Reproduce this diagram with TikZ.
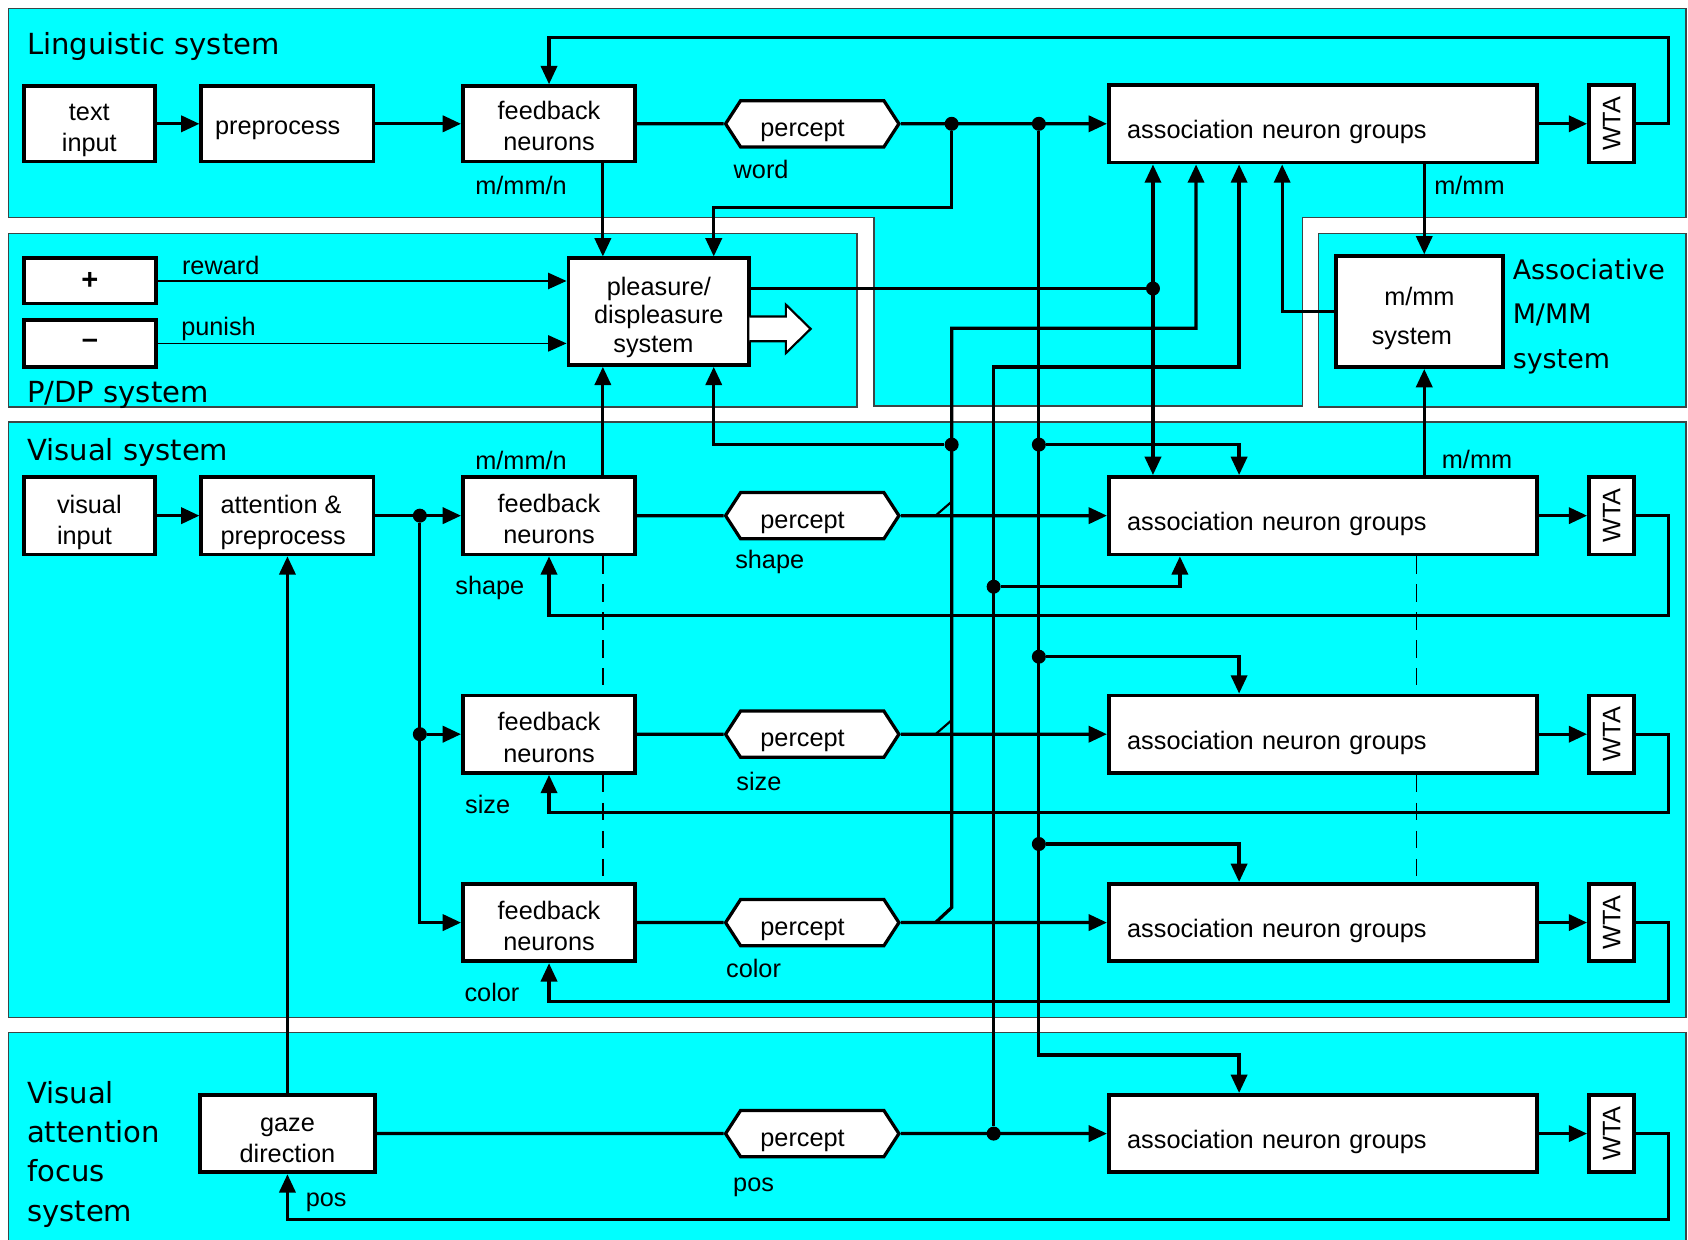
\documentclass[tikz,border=0pt]{standalone}
\usepackage{graphicx}
\usepackage{fontspec}
\setmainfont{Liberation Sans}
\newfontfamily\ttlfont{DejaVu Sans}
\usetikzlibrary{arrows.meta,shapes.symbols}
\definecolor{panelcyan}{RGB}{0,255,255}
\definecolor{panelline}{RGB}{60,70,70}
\newcommand{\topstrut}[1]{\rule{0pt}{#1}}

\begin{document}
\begin{tikzpicture}[x=1pt,y=-1pt,
  font=\fontsize{23.5}{29}\selectfont,
  panel/.style={fill=panelcyan, draw=panelline, line width=1.3pt},
  blk/.style={draw, fill=white, line width=3.5pt, inner sep=0pt, align=center},
  wta/.style={blk, minimum width=42pt, minimum height=72pt},
  agbox/.style={draw, fill=white, line width=3.5pt, inner sep=0pt,
                minimum width=398pt, minimum height=72pt, text width=364pt, align=left,
                execute at begin node={\topstrut{33pt}}},
  fbbox/.style={blk, minimum width=160pt, minimum height=72pt},
  pct/.style={shape=signal, signal to=west and east, signal pointer angle=114,
              draw, fill=white, line width=3pt, minimum width=161pt, minimum height=43pt, inner sep=0pt,
              execute at begin node={\topstrut{28pt}}, execute at end node={\kern18pt}},
  wire/.style={line width=3pt},
  arr/.style={wire, -{Triangle[length=17pt,width=15pt]}},
  dbl/.style={wire, {Triangle[length=17pt,width=15pt]}-{Triangle[length=17pt,width=15pt]}},
  thinarr/.style={line width=1.5pt, -{Triangle[length=17pt,width=15pt]}},
  tick/.style={line width=2pt},
  dot/.style={circle, fill, inner sep=0pt, minimum size=13pt},
  lbl/.style={inner sep=0pt},
  ttl/.style={font=\ttlfont\fontsize{27}{36.5}\selectfont, anchor=west, inner sep=0pt, align=left},
  guide/.style={line width=1.2pt, dash pattern=on 16pt off 10pt}
]
\useasboundingbox (0,0) rectangle (1568,1151);
\fill[white] (0,0) rectangle (1568,1151);

% ---------- system panels ----------
\draw[panel] (8,8) -- (1566,8) -- (1566,202) -- (1210,202) -- (1210,377)
             -- (812,377) -- (812,202) -- (8,202) -- cycle;
\draw[panel] (8,217) rectangle (796,378);
\draw[panel] (1225,217) rectangle (1566,378);
\draw[panel] (8,392) rectangle (1566,945);
\draw[panel] (8,959) rectangle (1566,1170);

% bus positions
\coordinate (c560) at (560,0);
\coordinate (c663) at (663,0);
\coordinate (c1071) at (1071,0);
\coordinate (c1096) at (1096,0);
\coordinate (c1111) at (1111,0);
\coordinate (c1151) at (1151,0);
\coordinate (c1191) at (1191,0);
\coordinate (c1316) at (1316,0);
\coordinate (c1323) at (1323,0);

% ---------- panel titles ----------
\node[ttl] (tling) at (25,43) {Linguistic system};
\node[ttl] (tpdp) at (25,367) {P/DP system};
\node[ttl] (tvis) at (25,420) {Visual system};
\node[ttl] (tfoc) at (25,1072) {Visual\\attention\\focus\\system};
\node[ttl, font=\ttlfont\fontsize{25}{41}\selectfont] (tass) at (1405,294) {Associative\\M/MM\\system};

% ---------- linguistic system ----------
\node[blk, minimum width=122pt, minimum height=70pt] (tin) at (83,115) {\topstrut{27.5pt}text\\input};
\node[blk, minimum width=160pt, minimum height=70pt] (prep) at (267,115) {\topstrut{24pt}preprocess\kern18pt};
\node[fbbox, minimum height=70pt] (fbw) at (510,115) {\topstrut{21pt}feedback\\neurons};
\node[pct] (pw) at (754.5,115) {percept};
\node[agbox] (agw) at (1229,115) {association neuron groups};
\node[wta] (wtaw) at (1497,115) {\rotatebox{90}{WTA}};

% ---------- P/DP system ----------
\node[blk, minimum width=123pt, minimum height=42pt, font=\fontsize{27}{29}\selectfont] (plus) at (83.5,261) {\textbf{+}};
\node[blk, minimum width=123pt, minimum height=44pt, font=\fontsize{27}{29}\selectfont] (minus) at (83.5,319) {\textbf{--}};
\node[blk, minimum width=168pt, minimum height=99pt, font=\fontsize{23.5}{26.5}\selectfont] (pds) at (612,289.5) {\topstrut{27pt}pleasure/\\displeasure\\system\kern10pt};

% ---------- associative M/MM system ----------
\node[blk, minimum width=155pt, minimum height=103pt, font=\fontsize{23.5}{36}\selectfont] (mms) at (1318.5,289.5) {\topstrut{29pt}m/mm\\system\kern14pt};

% ---------- visual system ----------
\node[blk, minimum width=122pt, minimum height=72pt, align=left] (vin) at (83,479) {\topstrut{29pt}visual\\input};
\node[blk, minimum width=160pt, minimum height=72pt, align=left] (att) at (267,479) {\topstrut{29pt}attention \&\\preprocess\kern8pt};
\node[fbbox] (fbs) at (510,479) {\topstrut{23pt}feedback\\neurons};
\node[fbbox] (fbz) at (510,682) {\topstrut{23pt}feedback\\neurons};
\node[fbbox] (fbc) at (510,857) {\topstrut{23pt}feedback\\neurons};
\node[pct] (ps) at (754.5,479) {percept};
\node[pct] (pz) at (754.5,682) {percept};
\node[pct] (pc) at (754.5,857) {percept};
\node[agbox] (ags) at (1229,479) {association neuron groups};
\node[agbox] (agz) at (1229,682) {association neuron groups};
\node[agbox] (agc) at (1229,857) {association neuron groups};
\node[wta] (wtas) at (1497,479) {\rotatebox{90}{WTA}};
\node[wta] (wtaz) at (1497,682) {\rotatebox{90}{WTA}};
\node[wta] (wtac) at (1497,857) {\rotatebox{90}{WTA}};

% ---------- visual attention focus system ----------
\node[blk, minimum width=162pt, minimum height=72pt] (gaze) at (267,1053) {\topstrut{24.5pt}gaze\\direction};
\node[pct] (pp) at (754.5,1053) {percept};
\node[agbox] (agp) at (1229,1053) {association neuron groups};
\node[wta] (wtap) at (1497,1053) {\rotatebox{90}{WTA}};

% ---------- junction dots ----------
\node[dot] (d884w) at (884,115) {};
\node[dot] (d965w) at (965,115) {};
\node[dot] (j1071) at (1071,268) {};
\node[dot] (d884v) at (884,413) {};
\node[dot] (d965a) at (965,413) {};
\node[dot] (d923s) at (923,545) {};
\node[dot] (d965b) at (965,610) {};
\node[dot] (d965c) at (965,784) {};
\node[dot] (d923p) at (923,1053) {};
\node[dot] (d390s) at (390,479) {};
\node[dot] (d390z) at (390,682) {};

% merge points on the percept outputs
\coordinate (ms) at (869,479);
\coordinate (mz) at (869,682);
\coordinate (mc) at (869,857);

% ---------- dashed guides between the visual channels ----------
\draw[guide] (fbs.south -| c560) -- (fbz.north -| c560);
\draw[guide] (fbz.south -| c560) -- (fbc.north -| c560);
\draw[guide] (ags.south -| c1316) -- (agz.north -| c1316);
\draw[guide] (agz.south -| c1316) -- (agc.north -| c1316);

% ---------- linguistic connections ----------
\draw[arr] (tin) -- (prep);
\draw[arr] (prep) -- (fbw);
\draw[wire] (fbw) -- (pw);
\draw[arr] (pw) -- (agw);
\draw[arr] (agw) -- (wtaw);
\draw[arr] (wtaw.east) -- (1550,115) -- (1550,35) -- (510,35) -- (fbw.north);
\draw[arr] (fbw.south -| c560) -- (pds.north -| c560);
\draw[arr] (d884w) -- (884,193) -- (663,193) -- (pds.north -| c663);
\draw[arr] (agw.south -| c1323) -- (mms.north -| c1323);

% ---------- P/DP connections ----------
\draw[thinarr] (plus) -- (pds.west |- plus);
\draw[thinarr] (minus) -- (pds.west |- minus);
\draw[wire] (pds.east |- j1071) -- (j1071);
\draw[dbl] (agw.south -| c1071) -- (ags.north -| c1071);
\draw[line width=2pt, fill=white] (696,294) -- (730,294) -- (730,283) -- (753,305.5)
      -- (730,328) -- (730,317) -- (696,317);

% ---------- m/mm system connections ----------
\draw[arr] (mms.west) -- (1191,289.5) -- (agw.south -| c1191);
\draw[arr] (ags.north -| c1323) -- (mms.south -| c1323);

% ---------- percept buses ----------
\draw[arr] (mc) -- (884,843) -- (884,305) -- (1111,305) -- (agw.south -| c1111);
\draw[tick] (ms) -- (884,466);
\draw[tick] (mz) -- (884,669);
\draw[arr] (d884v) -- (663,413) -- (pds.south -| c663);
\draw[arr] (d923p) -- (923,341) -- (1151,341) -- (agw.south -| c1151);
\draw[arr] (d923s) -- (1096,545) -- (ags.south -| c1096);
\draw[arr] (d965w) -- (965,980) -- (1151,980) -- (agp.north -| c1151);
\draw[arr] (d965a) -- (1151,413) -- (ags.north -| c1151);
\draw[arr] (d965b) -- (1151,610) -- (agz.north -| c1151);
\draw[arr] (d965c) -- (1151,784) -- (agc.north -| c1151);

% ---------- visual connections ----------
\draw[arr] (vin) -- (att);
\draw[arr] (att) -- (fbs);
\draw[arr] (d390s) -- (d390s |- fbc.west) -- (fbc.west);
\draw[arr] (d390z) -- (fbz.west);
\draw[arr] (fbs.north -| c560) -- (pds.south -| c560);
\draw[wire] (fbs) -- (ps);
\draw[wire] (fbz) -- (pz);
\draw[wire] (fbc) -- (pc);
\draw[arr] (ps) -- (ags);
\draw[arr] (pz) -- (agz);
\draw[arr] (pc) -- (agc);
\draw[arr] (ags) -- (wtas);
\draw[arr] (agz) -- (wtaz);
\draw[arr] (agc) -- (wtac);
\draw[arr] (wtas.east) -- (1550,479) -- (1550,572) -- (510,572) -- (fbs.south);
\draw[arr] (wtaz.east) -- (1550,682) -- (1550,755) -- (510,755) -- (fbz.south);
\draw[arr] (wtac.east) -- (1550,857) -- (1550,930) -- (510,930) -- (fbc.south);

% ---------- attention focus connections ----------
\draw[arr] (gaze) -- (att);
\draw[wire] (gaze) -- (pp);
\draw[arr] (pp) -- (agp);
\draw[arr] (agp) -- (wtap);
\draw[arr] (wtap.east) -- (1550,1053) -- (1550,1133) -- (267,1133) -- (gaze.south);

% ---------- labels ----------
\node[lbl] (lmw) at (484,172) {m/mm/n};
\node[lbl] (lword) at (707,157) {word};
\node[lbl] (lmmw) at (1365,172) {m/mm};
\node[lbl] (lrew) at (205,247) {reward};
\node[lbl] (lpun) at (203,306) {punish};
\node[lbl] (lmv) at (484,428) {m/mm/n};
\node[lbl] (lmmv) at (1372,427) {m/mm};
\node[lbl] (lfs) at (455,546) {shape};
\node[lbl] (lps) at (715,522) {shape};
\node[lbl] (lfz) at (453,747) {size};
\node[lbl] (lpz) at (705,726) {size};
\node[lbl] (lfc) at (457,922) {color};
\node[lbl] (lpc) at (700,900) {color};
\node[lbl] (lpp) at (700,1103) {pos};
\node[lbl] (lgp) at (303,1117) {pos};
\end{tikzpicture}
\end{document}
